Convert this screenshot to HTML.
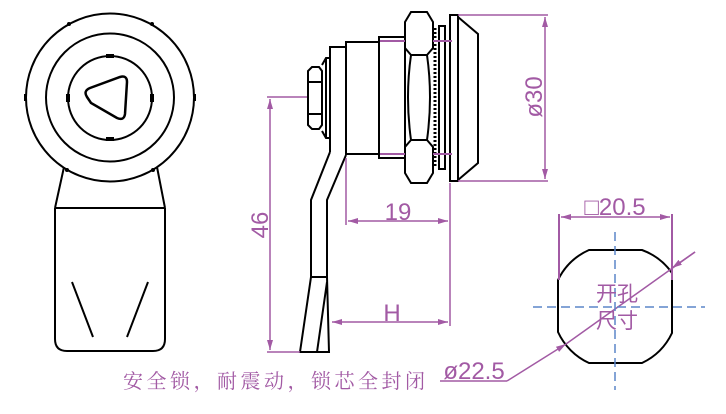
<!DOCTYPE html>
<html><head><meta charset="utf-8"><style>html,body{margin:0;padding:0;background:#fff}svg{display:block}</style></head>
<body>
<svg width="726" height="414" viewBox="0 0 726 414" xmlns="http://www.w3.org/2000/svg">
<defs>
<marker id="a" viewBox="0 0 10 6" refX="10" refY="3" markerWidth="10" markerHeight="6" orient="auto-start-reverse" markerUnits="userSpaceOnUse"><path d="M0,0 L10,3 L0,6 Z" fill="#a25aa4"/></marker>
</defs>
<g fill="none" stroke="#000" stroke-width="2">
<circle cx="110" cy="97.5" r="84"/>
<circle cx="110" cy="97.5" r="64"/>
<circle cx="110" cy="98" r="42"/>
<path d="M87,97 Q83,91 90,88 L120,77 Q127,75 127,82 L125,114 Q124,121 117,118 L91,103 Z" stroke-width="2.5"/>
<path d="M64,167 L55,208 M157,167 L165,208 M55,208 H165 M55,208 V339 Q55,351 67,351 H153 Q165,351 165,339 V208"/>
<path d="M72,282 L93,337 M148,282 L127,337"/>
<g fill="#000" stroke="none">
<rect x="106" y="54" width="8" height="4"/><rect x="106" y="137" width="8" height="4"/>
<rect x="66" y="94" width="4" height="8"/><rect x="150" y="94" width="4" height="8"/>
<rect x="24" y="94" width="3" height="7"/><rect x="193" y="94" width="3" height="7"/>
<circle cx="69" cy="24" r="2"/><circle cx="152" cy="24" r="2"/>
<circle cx="67" cy="170" r="2"/><circle cx="153" cy="170" r="2"/>
</g>
<rect x="450" y="15" width="8" height="166"/>
<path d="M458,17 L478,34 L478,163 L458,180"/>
<rect x="439" y="26" width="6" height="143"/>
<path d="M411,12 L427,12 L433,22 L433,48 L427,55 Q433,97 427,140 L433,147 L433,173 L427,183 L411,183 L405,173 L405,147 L411,140 Q405,97 411,55 L405,48 L405,22 Z"/>
<path d="M411,55 H427 M411,140 H427"/>
<path d="M435,28 V167" stroke-dasharray="2 2" stroke-width="3"/>
<rect x="379" y="37" width="26" height="121"/>
<rect x="346" y="42" width="33" height="112"/>
<path d="M330,152 V47 H346"/>
<path d="M330,152 L311,200 L311,277 L300,352 H329 L327,277 L327,200 L346,155"/>
<path d="M311,277 H327 M327,282 L317,352"/>
<path d="M312,67 H319 L322,71 V125 L319,129 H312 L308,125 V71 Z M308,82 H322 M308,114 H322"/>
<path d="M322,65 L326,58 H330 M322,131 L326,138 H330 M326,58 V138"/>
<path d="M589,250 H642 A63,63 0 0 1 672,273 V333 A63,63 0 0 1 642,363 H589 A63,63 0 0 1 558,332 V280 A63,63 0 0 1 589,250 Z"/>
</g>
<g stroke="#a25aa4" stroke-width="1.5" fill="none">
<path d="M380,41 H405 M433,41 H452 M380,154 H405 M433,154 H452" stroke-width="2"/>
<path d="M267,97 H307 M267,352 H300"/>
<path d="M270,99 V350" marker-start="url(#a)" marker-end="url(#a)"/>
<path d="M346,158 V225 M450,183 V326"/>
<path d="M348,221 H448" marker-start="url(#a)" marker-end="url(#a)"/>
<path d="M332,322 H448" marker-start="url(#a)" marker-end="url(#a)"/>
<path d="M458,15 H548 M458,181 H548"/>
<path d="M545,17 V179" marker-start="url(#a)" marker-end="url(#a)"/>
<path d="M559,214 V280 M672,214 V280" stroke-width="2"/>
<path d="M561,217 H670" marker-start="url(#a)" marker-end="url(#a)"/>
<path d="M440,381 H507"/>
<path d="M507,381 L566,344" marker-end="url(#a)"/>
<path d="M566,344 L695,252"/>
<path d="M695,252 L672,268" marker-end="url(#a)"/>
</g>
<g stroke="#5b86c8" stroke-width="1.5" stroke-dasharray="9 5">
<path d="M533,307 H705"/><path d="M615,232 V390"/>
</g>
<g fill="#a25aa4" font-family="Liberation Sans, sans-serif">
<text x="398" y="220" font-size="24" text-anchor="middle">19</text>
<text x="392" y="321" font-size="24" text-anchor="middle">H</text>
<text transform="translate(268,225) rotate(-90)" font-size="24" text-anchor="middle">46</text>
<text transform="translate(542,97) rotate(-90)" font-size="24" text-anchor="middle">ø30</text>
<text x="615" y="215" font-size="24" text-anchor="middle">□20.5</text>
<text x="474" y="379" font-size="24" text-anchor="middle">ø22.5</text>
<text x="617" y="301" font-size="21" text-anchor="middle" font-family="Liberation Sans, Noto Sans CJK SC, sans-serif">开孔</text>
<text x="617" y="328" font-size="21" text-anchor="middle" font-family="Liberation Sans, Noto Sans CJK SC, sans-serif">尺寸</text>
<text x="123" y="388" font-size="20" textLength="302" font-family="Liberation Serif, Noto Serif CJK SC, serif">安全锁，耐震动，锁芯全封闭</text>
</g>
</svg>
</body></html>
